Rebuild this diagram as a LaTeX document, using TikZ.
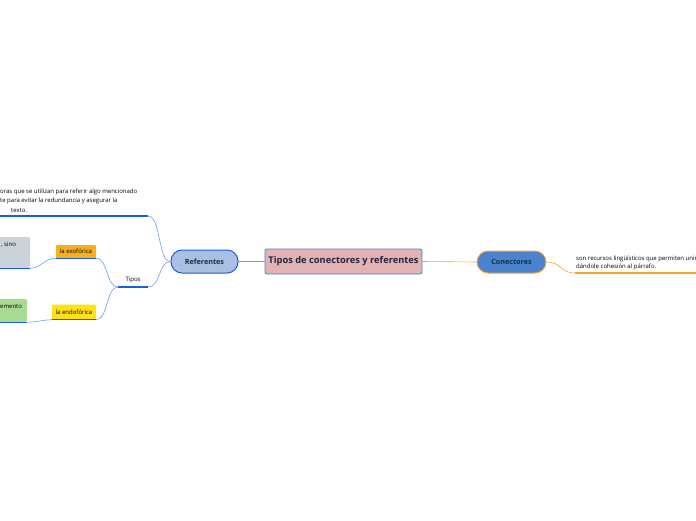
\documentclass[tikz,border=0pt]{standalone}
\usepackage{fontspec}
\setmainfont{Open Sans}
\usetikzlibrary{positioning, calc}
\definecolor{azulRama}{RGB}{26, 93, 224}
\definecolor{azulCurva}{RGB}{110, 155, 240}
\definecolor{naranjaRama}{RGB}{245, 166, 35}
\definecolor{rosaTema}{RGB}{227, 178, 178}
\definecolor{azulRef}{RGB}{169, 192, 226}
\definecolor{azulCon}{RGB}{74, 132, 207}
\definecolor{tintaOscura}{RGB}{16, 50, 60}
\definecolor{tintaTema}{RGB}{34, 38, 66}
\definecolor{grisHoja}{RGB}{201, 211, 217}
\definecolor{verdeHoja}{RGB}{168, 218, 145}
\definecolor{amarilloEndo}{RGB}{255, 226, 20}

\begin{document}
\begin{tikzpicture}[x=1pt, y=-1pt,
        tema/.style={rectangle, rounded corners=2pt, draw=azulRama!80, line width=0.8pt, fill=rosaTema, minimum width=157pt, minimum height=25pt, font=\fontsize{9.3}{10}\selectfont\bfseries, text=tintaTema},
        rama/.style={rectangle, rounded corners=11pt, line width=1pt, minimum width=67pt, minimum height=23pt, font=\fontsize{7.2}{8}\selectfont\bfseries, text=tintaOscura},
        etiqueta/.style={rectangle, rounded corners=1pt, minimum height=13pt, inner xsep=3pt, font=\fontsize{6}{7}\selectfont},
        texto/.style={anchor=base west, inner sep=0pt, font=\fontsize{6}{7}\selectfont},
        curvaAzul/.style={azulCurva, line width=0.6pt},
        subrayado/.style={azulRama, line width=1.2pt},
        curvaNaranja/.style={naranjaRama, line width=0.6pt}]

    \useasboundingbox (0,0) rectangle (696,520);
    \clip (0,0) rectangle (696,520);

    % nodos principales
    \node[tema] (tema) at (343.5,261.5) {Tipos de conectores y referentes};
    \node[rama, draw=azulRama, fill=azulRef] (ref) at (204.5,261.5) {Referentes};
    \node[rama, draw=naranjaRama, fill=azulCon, minimum width=69pt, minimum height=22pt] (con) at (511.5,262) {Conectores};

    \draw[curvaNaranja] (tema.east) -- (con.west);
    \draw[curvaAzul] (tema.west) -- (ref.east);

    % conectores: definicion
    \coordinate (conIni) at (575,273);
    \coordinate (conFin) at (696,273);
    \node[texto] (conTxt1) at (576,260) {son recursos lingüísticos que permiten unir};
    \node[texto] (conTxt2) at (576,268.5) {dándole cohesión al párrafo.};
    \draw[curvaNaranja] (con.east) .. controls (562,262) and (560,273) .. (conIni);
    \draw[naranjaRama, line width=1.2pt] (conIni) -- (conFin);

    % referentes: definicion
    \coordinate (defIni) at (148,216);
    \coordinate (defFin) at (0,216);
    \node[texto] (defTxt1) at (0,193) {oras que se utilizan para referir algo mencionado};
    \node[texto] (defTxt2) at (0,202.5) {te para evitar la redundancia y asegurar la};
    \node[texto] (defTxt3) at (11,212) {texto.};
    \draw[curvaAzul] (ref.west) .. controls (158,262) and (161,216) .. (defIni);
    \draw[subrayado] (defIni) -- (defFin);

    % referentes: tipos
    \coordinate (tipIni) at (148,287);
    \coordinate (tipFin) at (118,287);
    \node[font=\fontsize{6}{7}\selectfont, inner sep=0pt] (tipTxt) at (133,280.5) {Tipos};
    \draw[curvaAzul] (ref.west) .. controls (158,262) and (161,287) .. (tipIni);
    \draw[subrayado] (tipIni) -- (tipFin);

    \node[etiqueta, fill=naranjaRama!90!yellow, minimum width=40pt] (exo) at (76,251.5) {la exofórica};
    \node[etiqueta, fill=amarilloEndo, minimum width=44pt, minimum height=15pt] (endo) at (74,312) {la endofórica};
    \draw[subrayado] (exo.south west) -- (exo.south east);
    \draw[subrayado] (endo.south west) -- (endo.south east);
    \draw[curvaAzul] (tipFin) .. controls (106,287) and (108,258) .. (exo.south east);
    \draw[curvaAzul] (tipFin) .. controls (106,287) and (108,320) .. (endo.south east);

    % hojas recortadas
    \node[rectangle, rounded corners=2pt, fill=grisHoja, minimum width=40pt, minimum height=31pt] (exoHoja) at (10,252.5) {};
    \node[texto] (exoTxt) at (1,246) {, sino};
    \draw[subrayado] (exoHoja.south west) -- (exoHoja.south east);
    \draw[curvaAzul] (exo.south west) .. controls (44,258) and (42,268) .. (exoHoja.south east);

    \node[rectangle, rounded corners=2pt, fill=verdeHoja, minimum width=37pt, minimum height=23pt] (endoHoja) at (8.5,310.5) {};
    \node[texto] (endoTxt) at (0,308) {emento};
    \draw[subrayado] (endoHoja.south west) -- (endoHoja.south east);
    \draw[curvaAzul] (endo.south west) .. controls (40,320) and (40,322) .. (endoHoja.south east);
\end{tikzpicture}
\end{document}
